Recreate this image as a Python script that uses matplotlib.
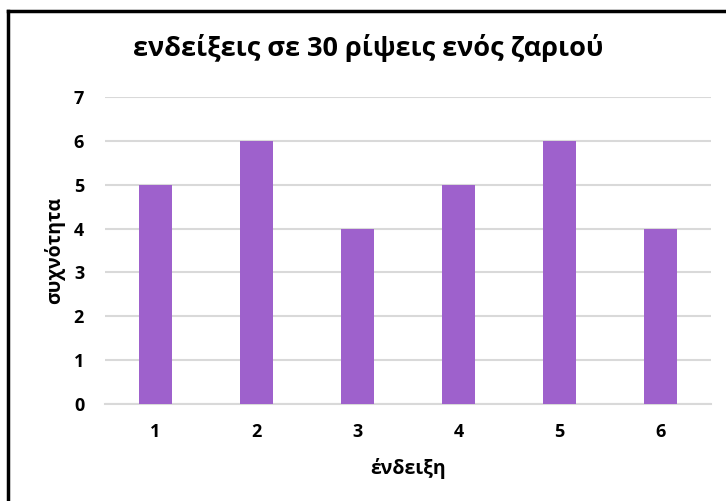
import matplotlib
matplotlib.use("Agg")
import matplotlib.pyplot as plt
from matplotlib.lines import Line2D

plt.rcParams["font.family"] = ["Open Sans", "Noto Sans", "DejaVu Sans"]

faces = ["1", "2", "3", "4", "5", "6"]
counts = [5, 6, 4, 5, 6, 4]
y_ticks = [0, 1, 2, 3, 4, 5, 6, 7]

bar_color = "#9E61CC"
grid_color = "#D9D9D9"

fig = plt.figure(figsize=(7.26, 5.01), dpi=100)
ax = fig.add_axes([0.1446, 0.1936, 0.8346, 0.6128])

positions = list(range(len(faces)))
ax.bar(positions, counts, width=0.32, color=bar_color, zorder=3)

ax.set_xlim(-0.5, len(faces) - 0.5)
ax.set_ylim(0, 7)
ax.set_yticks(y_ticks)
ax.set_yticklabels([str(t) for t in y_ticks], fontsize=13, fontweight="bold")
ax.set_xticks(positions)
ax.set_xticklabels(faces, fontsize=13, fontweight="bold")
ax.tick_params(axis="both", length=0)
ax.tick_params(axis="x", pad=14)
ax.tick_params(axis="y", pad=15)

ax.grid(axis="y", color=grid_color, linewidth=1.5, zorder=0)
for side in ["top", "right", "left"]:
    ax.spines[side].set_visible(False)
ax.spines["bottom"].set_color(grid_color)
ax.spines["bottom"].set_linewidth(1.5)

ax.set_xlabel("ένδειξη", fontsize=14, fontweight="bold", labelpad=12)
ax.set_ylabel("συχνότητα", fontsize=14, fontweight="bold", labelpad=6)

fig.text(0.507, 0.905, "ενδείξεις σε 30 ρίψεις ενός ζαριού",
         ha="center", va="center", fontsize=19.5, fontweight="bold")

# frame around the chart (only top and left visible in the crop)
fig.add_artist(Line2D([0.011, 1.0], [0.979, 0.979], color="black", lw=2.5,
                      transform=fig.transFigure))
fig.add_artist(Line2D([0.011, 0.011], [0.0, 0.979], color="black", lw=2.5,
                      transform=fig.transFigure))

fig.savefig("out.png", dpi=100)
